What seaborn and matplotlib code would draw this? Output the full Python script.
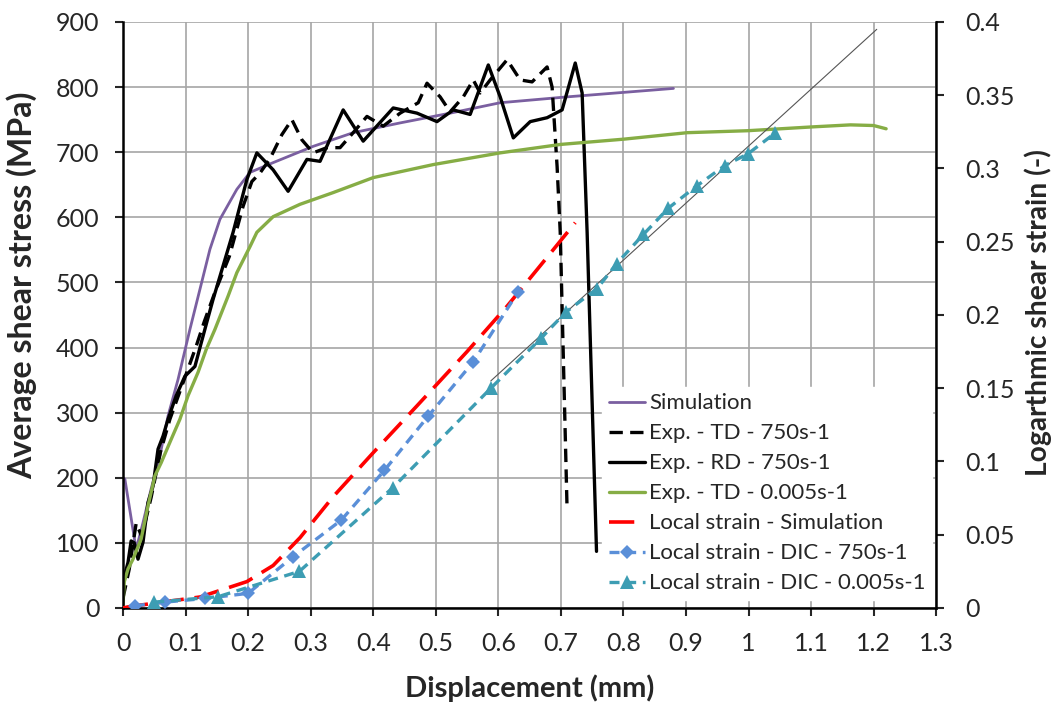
import matplotlib

matplotlib.use("Agg")

import matplotlib.pyplot as plt
import numpy as np
import pandas as pd
import seaborn as sns

# ---------------------------------------------------------------- data
# stress curves (left axis, MPa) vs displacement (mm)
sim_x = [0.0, 0.003, 0.021, 0.032, 0.045, 0.059, 0.072, 0.088, 0.107, 0.139, 0.155,
         0.182, 0.203, 0.24, 0.304, 0.368, 0.443, 0.523, 0.603, 0.71, 0.88]
sim_y = [200, 198, 90, 131, 183, 234, 295, 351, 428, 551, 597,
         643, 669, 684, 709, 730, 745, 760, 776, 785, 798]

td750_x = [0.0, 0.01, 0.021, 0.03, 0.045, 0.06, 0.075, 0.09, 0.105, 0.118, 0.13, 0.147,
           0.17, 0.192, 0.206, 0.219, 0.235, 0.254, 0.27, 0.286, 0.304, 0.326, 0.347,
           0.368, 0.39, 0.416, 0.443, 0.472, 0.486, 0.507, 0.523, 0.544, 0.56, 0.571,
           0.587, 0.614, 0.635, 0.654, 0.678, 0.686, 0.694, 0.699, 0.71]
td750_y = [15, 60, 130, 110, 170, 240, 290, 330, 370, 405, 440, 485,
           540, 617, 655, 668, 690, 727, 750, 719, 699, 707, 707,
           730, 755, 740, 760, 776, 806, 785, 762, 785, 811, 791,
           811, 842, 811, 808, 831, 800, 678, 577, 150]

rd750_x = [0.0, 0.002, 0.008, 0.013, 0.018, 0.024, 0.032, 0.04, 0.048, 0.056, 0.064,
           0.072, 0.085, 0.099, 0.115, 0.125, 0.134, 0.144, 0.176, 0.198, 0.214, 0.24,
           0.264, 0.294, 0.315, 0.352, 0.384, 0.432, 0.47, 0.502, 0.528, 0.555, 0.584,
           0.603, 0.624, 0.651, 0.678, 0.702, 0.723, 0.734, 0.742, 0.757]
rd750_y = [30, 48, 70, 103, 100, 75, 101, 162, 187, 244, 264,
           290, 326, 356, 371, 407, 439, 474, 577, 658, 699, 673,
           640, 689, 686, 765, 717, 768, 760, 747, 765, 758, 834,
           785, 722, 747, 753, 765, 837, 791, 577, 87]

td0005_x = [0.0, 0.002, 0.008, 0.016, 0.029, 0.04, 0.051, 0.061, 0.077, 0.091, 0.104,
            0.12, 0.133, 0.147, 0.168, 0.182, 0.203, 0.214, 0.24, 0.283, 0.336, 0.40,
            0.496, 0.603, 0.70, 0.80, 0.902, 0.998, 1.104, 1.163, 1.2, 1.22]
td0005_y = [5, 40, 60, 75, 106, 157, 203, 223, 259, 290, 326,
            362, 397, 428, 479, 515, 555, 577, 601, 620, 638, 661,
            681, 699, 712, 720, 730, 733, 739, 742, 741, 736]

# strain curves (right axis, -)
loc_sim_x = [0.0, 0.011, 0.123, 0.198, 0.24, 0.283, 0.336, 0.40, 0.47, 0.55, 0.614, 0.662, 0.723]
loc_sim_y = [0.0, 0.001, 0.0075, 0.018, 0.029, 0.048, 0.076, 0.106, 0.138, 0.175, 0.206, 0.231, 0.263]

dic750_x = [0.019, 0.067, 0.131, 0.2, 0.272, 0.349, 0.418, 0.488, 0.56, 0.632]
dic750_y = [0.0015, 0.004, 0.0065, 0.010, 0.035, 0.060, 0.094, 0.131, 0.168, 0.216]

dic0005_x = [0.05, 0.152, 0.282, 0.431, 0.588, 0.668, 0.708, 0.758, 0.789, 0.832,
             0.872, 0.917, 0.962, 0.999, 1.042]
dic0005_y = [0.004, 0.0077, 0.025, 0.082, 0.150, 0.184, 0.202, 0.218, 0.235, 0.255,
             0.273, 0.288, 0.302, 0.310, 0.324]

fit_x = [0.588, 1.205]
fit_y = [0.155, 0.395]

x_ticks = np.round(np.arange(0, 1.31, 0.1), 1)
x_tick_labels = ["0", "0.1", "0.2", "0.3", "0.4", "0.5", "0.6", "0.7", "0.8", "0.9",
                 "1", "1.1", "1.2", "1.3"]
y_ticks = list(range(0, 901, 100))
y2_ticks = [0, 0.05, 0.1, 0.15, 0.2, 0.25, 0.3, 0.35, 0.4]
y2_tick_labels = ["0", "0.05", "0.1", "0.15", "0.2", "0.25", "0.3", "0.35", "0.4"]

# ---------------------------------------------------------------- style
sns.set_theme(style="white")
plt.rcParams["font.family"] = ["Lato", "DejaVu Sans"]
plt.rcParams["axes.unicode_minus"] = False

PURPLE = "#7a5fa0"
GREEN = "#86ad45"
RED = "#ff0000"
BLUE = "#5a8fd8"
TEAL = "#3d9db3"

fig = plt.figure(figsize=(10.54, 7.05), dpi=100)
ax = fig.add_axes([0.1167, 0.1376, 0.7715, 0.8312])
ax2 = ax.twinx()


def line(axis, xs, ys, **kw):
    df = pd.DataFrame({"x": xs, "y": ys})
    sns.lineplot(data=df, x="x", y="y", ax=axis, sort=False, estimator=None, **kw)


line(ax, sim_x, sim_y, color=PURPLE, linewidth=2.0, label="Simulation")
line(ax, td750_x, td750_y, color="black", linewidth=2.4, linestyle=(0, (4, 2.2)),
     label="Exp. - TD - 750s-1")
line(ax, rd750_x, rd750_y, color="black", linewidth=2.4, label="Exp. - RD - 750s-1")
line(ax, td0005_x, td0005_y, color=GREEN, linewidth=2.4, label="Exp. - TD - 0.005s-1")

line(ax2, fit_x, fit_y, color="#555555", linewidth=0.8)
line(ax2, loc_sim_x, loc_sim_y, color=RED, linewidth=2.6, linestyle=(0, (7, 3)),
     label="Local strain - Simulation")
line(ax2, dic750_x, dic750_y, color=BLUE, linewidth=2.4, linestyle=(0, (3, 2)),
     marker="D", markersize=7.5, markeredgewidth=0, label="Local strain - DIC - 750s-1")
line(ax2, dic0005_x, dic0005_y, color=TEAL, linewidth=2.4, linestyle=(0, (3, 2)),
     marker="^", markersize=10, markeredgewidth=0, label="Local strain - DIC - 0.005s-1")

# ---------------------------------------------------------------- axes
ax.set_xlim(0, 1.3)
ax.set_ylim(0, 900)
ax2.set_ylim(0, 0.4)
ax.set_xticks(x_ticks)
ax.set_xticklabels(x_tick_labels)
ax.set_yticks(y_ticks)
ax2.set_yticks(y2_ticks)
ax2.set_yticklabels(y2_tick_labels)

ax.grid(True, color="#a6a6a6", linewidth=1.2)
ax.set_axisbelow(True)
for a in (ax, ax2):
    a.spines["top"].set_visible(False)
    for s in ("left", "right", "bottom"):
        a.spines[s].set_color("black")
        a.spines[s].set_linewidth(1.8)
ax.spines["right"].set_visible(False)
ax2.spines["left"].set_visible(False)
ax2.spines["bottom"].set_visible(False)

ax.tick_params(axis="x", direction="out", length=6, width=1.5, labelsize=18, pad=11, bottom=True)
ax.tick_params(axis="y", direction="out", length=6, width=1.5, labelsize=18, pad=11, left=True)
ax2.tick_params(axis="y", direction="out", length=6, width=1.5, labelsize=18, pad=15, right=True)

ax.set_xlabel("Displacement (mm)", fontsize=20, fontweight="bold")
ax.set_ylabel("Average shear stress (MPa)", fontsize=20, fontweight="bold")
ax2.set_ylabel("Logarthmic shear strain (-)", fontsize=20, fontweight="bold")
ax.xaxis.label.set_va("center")
ax.yaxis.label.set_va("center")
ax2.yaxis.label.set_va("center")
ax.xaxis.set_label_coords(0.5, -0.1365)
ax.yaxis.set_label_coords(-0.1245, 0.551)
ax2.yaxis.set_label_coords(1.1255, 0.505)

# size the axis titles to the lengths seen in the reference (pixels)
fig.canvas.draw()
renderer = fig.canvas.get_renderer()
for txt, target, vertical in ((ax.xaxis.label, 249, False),
                              (ax.yaxis.label, 388, True),
                              (ax2.yaxis.label, 326, True)):
    bb = txt.get_window_extent(renderer)
    cur = bb.height if vertical else bb.width
    txt.set_fontsize(txt.get_fontsize() * target / cur)

# ---------------------------------------------------------------- legend
h1, l1 = ax.get_legend_handles_labels()
h2, l2 = ax2.get_legend_handles_labels()
if ax.get_legend():
    ax.get_legend().remove()
if ax2.get_legend():
    ax2.get_legend().remove()
leg = ax2.legend(h1 + h2, l1 + l2, loc="lower right", bbox_to_anchor=(1.005, 0.0),
                 fontsize=16, frameon=True, fancybox=False, framealpha=1.0,
                 edgecolor="white", handlelength=1.6, handletextpad=0.2,
                 labelspacing=0.45, borderpad=0.3, borderaxespad=0.36)

fig.savefig("out.png", dpi=100)
